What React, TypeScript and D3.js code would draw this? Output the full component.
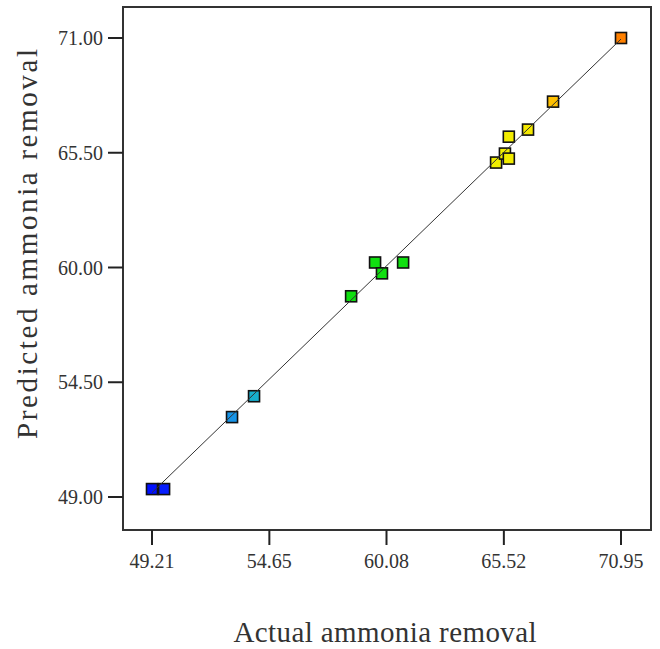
import * as d3 from "d3";
import { useEffect, useRef } from "react";

// actual vs predicted ammonia removal (%)
const actual = [
  49.21, 49.77, 52.92, 53.94, 58.44, 59.55, 59.87, 60.85, 65.16, 65.57,
  65.75, 65.75, 66.64, 67.8, 70.95,
];
const predicted = [
  49.38, 49.38, 52.83, 53.83, 58.62, 60.24, 59.72, 60.24, 65.03, 65.46,
  65.22, 66.27, 66.61, 67.95, 71.0,
];
const xTicks = [49.21, 54.65, 60.08, 65.52, 70.95];
const yTicks = [49.0, 54.5, 60.0, 65.5, 71.0];

const W = 660,
  H = 649;
const frame = { left: 123, right: 651, top: 7, bottom: 530 };

const App = () => {
  const svgRef = useRef<SVGSVGElement>(null);

  useEffect(() => {
    const svg = d3.select(svgRef.current);
    svg.selectAll("*").remove();

    const x = d3
      .scaleLinear()
      .domain([49.21, 70.95])
      .range([152, 621]);
    const y = d3.scaleLinear().domain([49, 71]).range([497, 38]);

    // colour by value, blue -> cyan -> green -> yellow -> orange
    const color = d3
      .scaleLinear<string>()
      .domain([49.21, 50.5, 53.4, 58.4, 61, 65, 66.7, 67.8, 70.95])
      .range([
        "#0010ff",
        "#1030ff",
        "#18a8e4",
        "#10e010",
        "#10e010",
        "#f0f000",
        "#f4e800",
        "#ffc000",
        "#ff8000",
      ]);

    const font = "'Liberation Serif', 'Times New Roman', serif";

    // frame
    svg
      .append("rect")
      .attr("x", frame.left)
      .attr("y", frame.top)
      .attr("width", frame.right - frame.left)
      .attr("height", frame.bottom - frame.top)
      .attr("fill", "none")
      .attr("stroke", "#333")
      .attr("stroke-width", 2);

    // x axis ticks
    const gx = svg.append("g");
    gx.selectAll("line")
      .data(xTicks)
      .enter()
      .append("line")
      .attr("x1", (d) => x(d))
      .attr("x2", (d) => x(d))
      .attr("y1", frame.bottom)
      .attr("y2", frame.bottom + 15)
      .attr("stroke", "#222")
      .attr("stroke-width", 2);
    gx.selectAll("text")
      .data(xTicks)
      .enter()
      .append("text")
      .attr("x", (d) => x(d))
      .attr("y", 568)
      .attr("text-anchor", "middle")
      .attr("font-family", font)
      .attr("font-size", 20)
      .attr("fill", "#333")
      .text((d) => d.toFixed(2));

    // y axis ticks
    const gy = svg.append("g");
    gy.selectAll("line")
      .data(yTicks)
      .enter()
      .append("line")
      .attr("x1", frame.left - 15)
      .attr("x2", frame.left)
      .attr("y1", (d) => y(d))
      .attr("y2", (d) => y(d))
      .attr("stroke", "#222")
      .attr("stroke-width", 2);
    gy.selectAll("text")
      .data(yTicks)
      .enter()
      .append("text")
      .attr("x", 103)
      .attr("y", (d) => y(d))
      .attr("dy", "0.35em")
      .attr("text-anchor", "end")
      .attr("font-family", font)
      .attr("font-size", 20)
      .attr("fill", "#333")
      .text((d) => d.toFixed(2));

    // points
    const s = 11;
    svg
      .append("g")
      .selectAll("rect")
      .data(actual)
      .enter()
      .append("rect")
      .attr("x", (d) => x(d) - s / 2)
      .attr("y", (d, i) => y(predicted[i]) - s / 2)
      .attr("width", s)
      .attr("height", s)
      .attr("fill", (d) => color(d))
      .attr("stroke", "#111")
      .attr("stroke-width", 1.6);

    // y = x reference line on top of markers
    const line = d3
      .line<number>()
      .x((d) => x(d))
      .y((d) => y(d));
    svg
      .append("path")
      .attr("d", line([49.21, 70.95]))
      .attr("fill", "none")
      .attr("stroke", "#333")
      .attr("stroke-width", 1);

    // axis titles
    svg
      .append("text")
      .attr("x", 385)
      .attr("y", 642)
      .attr("text-anchor", "middle")
      .attr("font-family", font)
      .attr("font-size", 29)
      .attr("fill", "#333")
      .attr("textLength", 303)
      .attr("lengthAdjust", "spacing")
      .text("Actual ammonia removal");

    svg
      .append("text")
      .attr("transform", "translate(37,244) rotate(-90)")
      .attr("text-anchor", "middle")
      .attr("font-family", font)
      .attr("font-size", 29)
      .attr("fill", "#333")
      .attr("textLength", 390)
      .attr("lengthAdjust", "spacing")
      .text("Predicted ammonia removal");
  }, []);

  return (
    <div style={{ position: "absolute", left: 0, top: 0 }}>
      <svg ref={svgRef} width={W} height={H} style={{ display: "block", background: "#fff" }}></svg>
    </div>
  );
};

export default App;
